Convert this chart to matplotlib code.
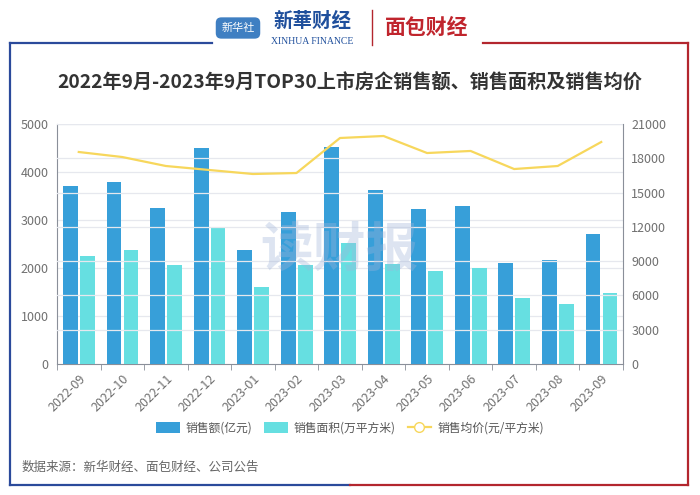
import numpy as np
import matplotlib.pyplot as plt
from matplotlib.lines import Line2D
from matplotlib.patches import Patch

plt.rcParams['font.family'] = ['Noto Sans CJK SC', 'DejaVu Sans']

# --- data ---
months = ["2022-09", "2022-10", "2022-11", "2022-12", "2023-01", "2023-02", "2023-03",
          "2023-04", "2023-05", "2023-06", "2023-07", "2023-08", "2023-09"]
sales_amount = [3710, 3790, 3250, 4500, 2375, 3170, 4520, 3625, 3230, 3290, 2100, 2170, 2710]
sales_area = [2250, 2375, 2060, 2855, 1600, 2060, 2520, 2080, 1940, 2000, 1375, 1250, 1480]
avg_price = [18550, 18110, 17325, 16975, 16625, 16710, 19775, 19950, 18460, 18640, 17060, 17325, 19425]

C_AMOUNT = "#379fd9"
C_AREA = "#66dfe1"
C_PRICE = "#f7d75c"
GRID = "#e6e8ee"
TXT = "#707070"

W, H = 700, 495
fig = plt.figure(figsize=(W / 100, H / 100), dpi=100)
fig.patch.set_facecolor("white")

ax = fig.add_axes([57 / W, 1 - 364 / H, (623 - 57) / W, (364 - 124) / H])
ax2 = ax.twinx()

x = np.arange(len(months))
bw = 0.34
ax.bar(x - 0.19, sales_amount, width=bw, color=C_AMOUNT, zorder=3)
ax.bar(x + 0.20, sales_area, width=bw, color=C_AREA, zorder=3)
ax2.plot(x, avg_price, color=C_PRICE, lw=1.6, zorder=4)

ax.set_xlim(-0.5, len(months) - 0.5)
ax.set_ylim(0, 5000)
ax.set_yticks(range(0, 5001, 1000))
ax2.set_ylim(0, 21000)
ax2.set_yticks(range(0, 21001, 3000))

# line drawn above the bars
ax2.set_zorder(ax.get_zorder() + 1)
ax2.patch.set_visible(False)
ax.set_axisbelow(True)

for v in range(1000, 5001, 1000):
    ax.axhline(v, color=GRID, lw=0.9, zorder=0)
for v in range(3000, 21001, 3000):
    ax2.axhline(v, color=GRID, lw=0.9, zorder=0)

ax.set_xticks(x)
ax.set_xticklabels(months, rotation=45, ha="right", rotation_mode="anchor",
                   fontsize=9, color=TXT)
ax.tick_params(axis="x", length=0, pad=6)
ax.set_xticks(np.arange(-0.5, len(months)), minor=True)
ax.tick_params(axis="x", which="minor", length=4, color="#8a8f99")
ax.tick_params(axis="y", length=0, labelsize=9, labelcolor=TXT, pad=6)
ax2.tick_params(axis="y", length=0, labelsize=9, labelcolor=TXT, pad=6)

for a in (ax, ax2):
    for s in a.spines.values():
        s.set_visible(False)
ax.spines["left"].set_visible(True)
ax.spines["left"].set_color("#8a8f99")
ax.spines["bottom"].set_visible(True)
ax.spines["bottom"].set_color("#8a8f99")
ax2.spines["right"].set_visible(True)
ax2.spines["right"].set_color("#8a8f99")

# watermark
fig.text(0.485, 1 - 250 / H, "读财报", fontsize=38, fontweight="bold",
         color="#9fb4d9", alpha=0.35, ha="center", va="center", zorder=10)

# title
fig.text(0.5, 1 - 82 / H, "2022年9月-2023年9月TOP30上市房企销售额、销售面积及销售均价",
         fontsize=13.8, fontweight="bold", color="#333333", ha="center", va="center")

# legend
handles = [Patch(facecolor=C_AMOUNT, label="销售额(亿元)"),
           Patch(facecolor=C_AREA, label="销售面积(万平方米)"),
           Line2D([0], [0], color=C_PRICE, lw=1.6, marker="o", markersize=7,
                  markerfacecolor="white", markeredgecolor=C_PRICE, label="销售均价(元/平方米)")]
fig.legend(handles=handles, loc="center", bbox_to_anchor=(0.5, 1 - 428 / H), ncol=3,
           frameon=False, fontsize=8.5, labelcolor="#555555", handlelength=2.0,
           handleheight=1.1, columnspacing=1.0, handletextpad=0.5)

# source
fig.text(22 / W, 1 - 467 / H, "数据来源：新华财经、面包财经、公司公告",
         fontsize=9, color="#666666", ha="left", va="center")

# frame: blue on the left, red on the right
blue, red = "#2b4a9b", "#b3262e"
fy0, fy1 = 1 - 485 / H, 1 - 43 / H
fx0, fx1 = 10 / W, 688 / W
fig.add_artist(Line2D([fx0, fx0], [fy0, fy1], color=blue, lw=1.6))
fig.add_artist(Line2D([fx1, fx1], [fy0, fy1], color=red, lw=1.6))
fig.add_artist(Line2D([fx0, 212 / W], [fy1, fy1], color=blue, lw=1.6))
fig.add_artist(Line2D([483 / W, fx1], [fy1, fy1], color=red, lw=1.6))
fig.add_artist(Line2D([fx0, 0.5], [fy0, fy0], color=blue, lw=1.6))
fig.add_artist(Line2D([0.5, fx1], [fy0, fy0], color=red, lw=1.6))

# header logos as text
fig.text(238 / W, 1 - 28 / H, "新华社", fontsize=8, color="white", ha="center", va="center",
         bbox=dict(boxstyle="round,pad=0.5", facecolor="#3f7fc2", edgecolor="none"))
fig.text(312 / W, 1 - 21 / H, "新華财经", fontsize=14, fontweight="bold", color="#1f4f9c",
         ha="center", va="center")
fig.text(312 / W, 1 - 41 / H, "XINHUA FINANCE", fontsize=7, color="#1f4f9c",
         ha="center", va="center", family="Liberation Serif")
fig.add_artist(Line2D([372 / W, 372 / W], [1 - 45 / H, 1 - 10 / H], color="#b3262e", lw=1))
fig.text(427 / W, 1 - 27 / H, "面包财经", fontsize=15, fontweight="bold", color="#c0252d",
         ha="center", va="center")

fig.savefig("out.png", dpi=100)
